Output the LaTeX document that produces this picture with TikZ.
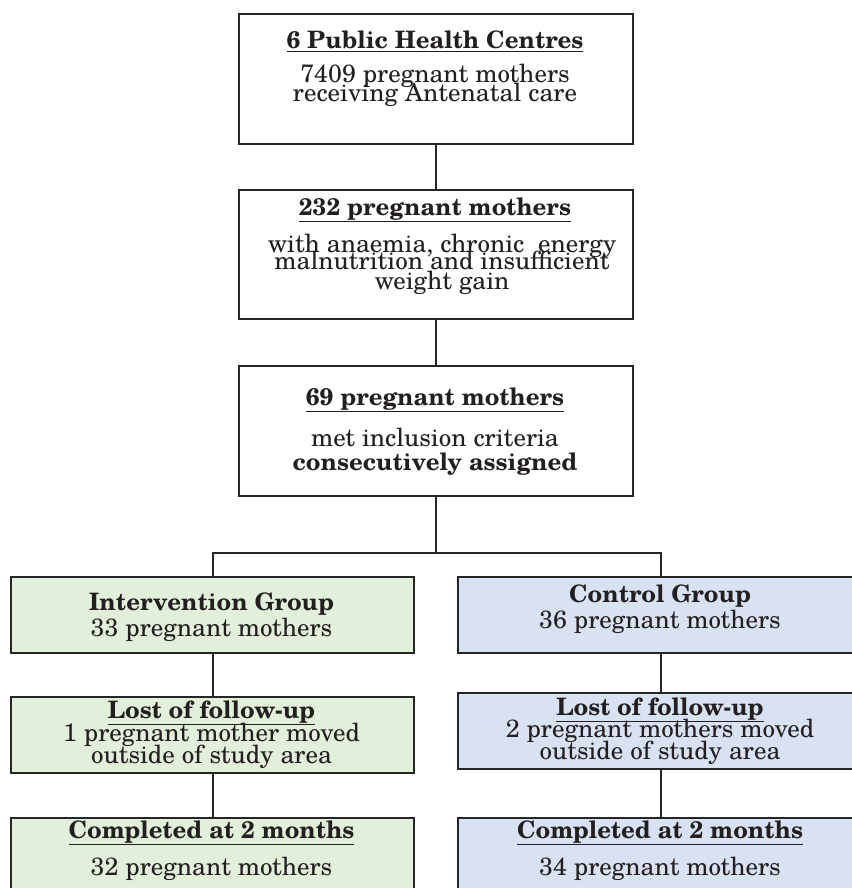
\documentclass[tikz,border=0pt]{standalone}
\usepackage{fontspec}
\setmainfont{TeX Gyre Schola}
\definecolor{linec}{HTML}{262626}
\definecolor{txtc}{HTML}{231F20}
\definecolor{greenf}{HTML}{E2EFDA}
\definecolor{bluef}{HTML}{D9E2F3}
\newcommand{\bd}[1]{{\fontsize{24}{24}\selectfont\textbf{#1}}}
\newcommand{\hd}[1]{{\fontsize{24}{24}\selectfont\textbf{\underline{#1}}}}
\begin{document}
\begin{tikzpicture}[x=1pt,y=-1pt,
  box/.style={draw=linec, line width=2pt, anchor=north west, inner sep=0pt, fill=white},
  gbox/.style={box, fill=greenf},
  bbox/.style={box, fill=bluef},
  txt/.style={anchor=base, inner sep=0pt, text=txtc, font=\fontsize{25}{25}\selectfont},
  conn/.style={draw=linec, line width=2pt}]
\useasboundingbox (0,0) rectangle (851,888);
% boxes
\node[box, minimum width=394pt, minimum height=130pt] (b1) at (238,13) {};
\node[box, minimum width=394pt, minimum height=129pt] (b2) at (238,189) {};
\node[box, minimum width=394pt, minimum height=130pt] (b3) at (238,365) {};
\node[gbox, minimum width=403pt, minimum height=76pt] (ig) at (10,576) {};
\node[gbox, minimum width=403pt, minimum height=76pt] (lg) at (10,696) {};
\node[gbox, minimum width=403pt, minimum height=100pt] (cg) at (10,817) {};
\node[bbox, minimum width=406pt, minimum height=76pt] (ctl) at (457,576) {};
\node[bbox, minimum width=406pt, minimum height=76pt] (lb) at (457,692) {};
\node[bbox, minimum width=406pt, minimum height=100pt] (cb) at (457,817) {};
% connectors
\coordinate (split) at (b3.south |- 0,553);
\draw[conn] (b1.south) -- (b2.north);
\draw[conn] (b2.south) -- (b3.north);
\draw[conn] (b3.south) -- (split);
\draw[conn] (ig.north) |- (split) -| (ctl.north);
\draw[conn] (ig.south) -- (lg.north);
\draw[conn] (lg.south) -- (cg.north);
\draw[conn] (ctl.south) -- (lb.north);
\draw[conn] (lb.south) -- (cb.north);
% texts
\node[txt] (t1a) at (435,49) {\hd{6 Public Health Centres}};
\node[txt] (t1b) at (435,83) {7409 pregnant mothers};
\node[txt] (t1c) at (435,102) {receiving Antenatal care};
\node[txt] (t2a) at (435,215) {\hd{232 pregnant mothers}};
\node[txt] (t2b) at (442,252) {with anaemia, chronic\ \ energy};
\node[txt] (t2c) at (442,269) {malnutrition and insufficient};
\node[txt] (t2d) at (442,289) {weight gain};
\node[txt] (t3a) at (435,405) {\hd{69 pregnant mothers}};
\node[txt] (t3b) at (435,446) {met inclusion criteria};
\node[txt] (t3c) at (435,470) {\bd{consecutively assigned}};
\node[txt] (t4a) at (211.5,610) {\bd{Intervention Group}};
\node[txt] (t4b) at (211.5,636) {33 pregnant mothers};
\node[txt] (t5a) at (211.5,718) {\hd{Lost of follow-up}};
\node[txt] (t5b) at (211.5,741) {1 pregnant mother moved};
\node[txt] (t5c) at (211.5,763) {outside of study area};
\node[txt] (t6a) at (211.5,838) {\hd{Completed at 2 months}};
\node[txt] (t6b) at (211.5,875) {32 pregnant mothers};
\node[txt] (t7a) at (660,602) {\bd{Control Group}};
\node[txt] (t7b) at (660,628) {36 pregnant mothers};
\node[txt] (t8a) at (660,715) {\hd{Lost of follow-up}};
\node[txt] (t8b) at (660,737) {2 pregnant mothers moved};
\node[txt] (t8c) at (660,759) {outside of study area};
\node[txt] (t9a) at (660,838) {\hd{Completed at 2 months}};
\node[txt] (t9b) at (660,875) {34 pregnant mothers};
\end{tikzpicture}
\end{document}
